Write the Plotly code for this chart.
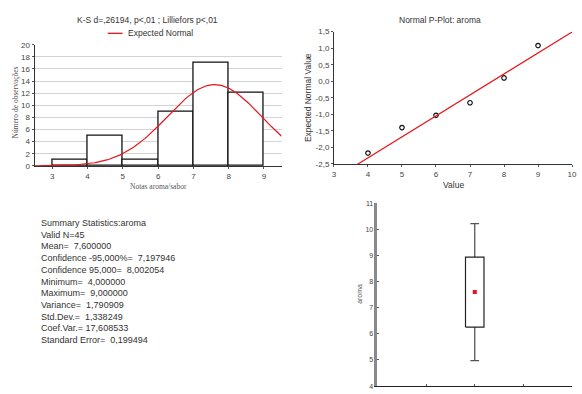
import numpy as np
import plotly.graph_objects as go

# --- data -------------------------------------------------------------
bin_lower = [3, 4, 5, 6, 7, 8]          # histogram class limits (lower)
bin_upper = [4, 5, 6, 7, 8, 9]          # histogram class limits (upper)
counts = [1, 5, 1, 9, 17, 12]           # observations per class

pp_values = [4, 5, 6, 7, 8, 9]          # normal probability plot: observed value
pp_expected = [-2.17, -1.40, -1.03, -0.65, 0.10, 1.08]  # expected normal value

stat_names = ["Valid N", "Mean", "Confidence -95,000%", "Confidence 95,000",
              "Minimum", "Maximum", "Variance", "Std.Dev.", "Coef.Var.",
              "Standard Error"]
stat_values = [45, 7.6, 7.197946, 8.002054, 4.0, 9.0, 1.790909,
               1.338249, 17.608533, 0.199494]

hist_yticks = list(range(0, 21, 2))
hist_xticks = [3, 4, 5, 6, 7, 8, 9]
pp_yticks = [-2.5, -2.0, -1.5, -1.0, -0.5, 0.0, 0.5, 1.0, 1.5]
pp_xticks = [3, 4, 5, 6, 7, 8, 9, 10]
box_yticks = [4, 5, 6, 7, 8, 9, 10, 11]

W, H = 582, 394
FONT = "Liberation Sans, Arial, sans-serif"
SERIF = "Liberation Serif, Times New Roman, serif"
TICK_COL = "#444444"


def px(x):
    return x / W


def py(y):
    return 1 - y / H


def comma(v, nd):
    return f"{v:.{nd}f}".replace(".", ",")


stats = dict(zip(stat_names, stat_values))
n = stats["Valid N"]
mean = stats["Mean"]
sd = stats["Std.Dev."]

fig = go.Figure()

# --- histogram with expected normal curve ------------------------------
mids = [(a + b) / 2 for a, b in zip(bin_lower, bin_upper)]
widths = [b - a for a, b in zip(bin_lower, bin_upper)]
fig.add_trace(go.Bar(
    x=mids, y=counts, width=widths,
    marker=dict(color="white", line=dict(color="#111111", width=1.3)),
    xaxis="x", yaxis="y", showlegend=False, hoverinfo="skip"))

xc = np.linspace(2.5, 9.5, 200)
binw = widths[0]
yc = n * binw * np.exp(-0.5 * ((xc - mean) / sd) ** 2) / (sd * np.sqrt(2 * np.pi))
fig.add_trace(go.Scatter(
    x=xc, y=yc, mode="lines", line=dict(color="#e8141b", width=1.2),
    xaxis="x", yaxis="y", showlegend=False, hoverinfo="skip"))

# --- normal probability plot -------------------------------------------
fig.add_trace(go.Scatter(
    x=pp_values, y=pp_expected, mode="markers",
    marker=dict(symbol="circle-open", size=4.5, color="#111111",
                line=dict(width=1.2, color="#111111")),
    xaxis="x2", yaxis="y2", showlegend=False, hoverinfo="skip"))

# weighted least-squares reference line
w = np.array(counts, float)
xv = np.array(pp_values, float)
yv = np.array(pp_expected, float)
xm = np.sum(w * xv) / w.sum()
ym = np.sum(w * yv) / w.sum()
slope = np.sum(w * (xv - xm) * (yv - ym)) / np.sum(w * (xv - xm) ** 2)
lx = np.array([3.0, 10.0])
ly = ym + slope * (lx - xm)
fig.add_trace(go.Scatter(
    x=lx, y=ly, mode="lines", line=dict(color="#e8141b", width=1.2),
    xaxis="x2", yaxis="y2", showlegend=False, hoverinfo="skip"))

# --- box plot: mean, mean±SD, mean±1.96*SD ------------------------------
bx = 2.0
hb, hc = 0.19, 0.09
q1, q3 = mean - sd, mean + sd
lo, hi = mean - 1.96 * sd, mean + 1.96 * sd
box_col = "#222222"
fig.add_trace(go.Scatter(
    x=[bx, bx, None, bx, bx, None, bx - hc, bx + hc, None, bx - hc, bx + hc],
    y=[q3, hi, None, q1, lo, None, hi, hi, None, lo, lo],
    mode="lines", line=dict(color="#555555", width=1.3),
    xaxis="x3", yaxis="y3", showlegend=False, hoverinfo="skip"))
fig.add_trace(go.Scatter(
    x=[bx - hb, bx + hb, bx + hb, bx - hb, bx - hb],
    y=[q1, q1, q3, q3, q1],
    mode="lines", line=dict(color=box_col, width=1.2),
    xaxis="x3", yaxis="y3", showlegend=False, hoverinfo="skip"))
fig.add_trace(go.Scatter(
    x=[bx], y=[mean], mode="markers",
    marker=dict(symbol="square", size=4, color="#e8141b"),
    xaxis="x3", yaxis="y3", showlegend=False, hoverinfo="skip"))

tickfont = dict(family=FONT, size=8, color=TICK_COL)

fig.update_layout(
    width=W, height=H, margin=dict(l=0, r=0, t=0, b=0),
    paper_bgcolor="white", plot_bgcolor="white",
    bargap=0,
    xaxis=dict(domain=[px(33), px(283)], range=[2.5, 9.5],
               tickvals=hist_xticks, ticktext=[str(t) for t in hist_xticks],
               showgrid=False, zeroline=False, showline=True,
               linecolor="#333333", linewidth=1,
               ticks="outside", ticklen=2, tickcolor="#555555",
               tickfont=tickfont, anchor="y"),
    yaxis=dict(domain=[py(165.7), py(41.7)], range=[0, 20],
               tickvals=hist_yticks, ticktext=[str(t) for t in hist_yticks],
               showgrid=True, gridcolor="#d4d4d4", gridwidth=1,
               zeroline=False, showline=True, linecolor="#333333", linewidth=1,
               ticks="outside", ticklen=2, tickcolor="#555555",
               tickfont=tickfont, anchor="x"),
    xaxis2=dict(domain=[px(336), px(577)], range=[3, 10],
                tickvals=pp_xticks, ticktext=[str(t) for t in pp_xticks],
                showgrid=False, zeroline=False, showline=True,
                linecolor="#333333", linewidth=1,
                ticks="outside", ticklen=2, tickcolor="#555555",
                tickfont=tickfont, anchor="y2"),
    yaxis2=dict(domain=[py(163.7), py(28.3)], range=[-2.5, 1.5],
                tickvals=pp_yticks,
                ticktext=[comma(t, 1) for t in pp_yticks],
                showgrid=False, zeroline=False, showline=True,
                linecolor="#333333", linewidth=1,
                ticks="outside", ticklen=2, tickcolor="#555555",
                tickfont=tickfont, anchor="x2"),
    xaxis3=dict(domain=[px(380), px(577)], range=[0, 4],
                tickvals=[1, 2, 3, 4], showticklabels=False,
                showgrid=False, zeroline=False, showline=True,
                linecolor="#222222", linewidth=1.3,
                ticks="inside", ticklen=2, tickcolor="#555555",
                anchor="y3"),
    yaxis3=dict(domain=[py(391), py(204)], range=[4, 11],
                tickvals=box_yticks, ticktext=[str(t) for t in box_yticks],
                showgrid=False, zeroline=False, showline=True,
                linecolor="#8a8a8a", linewidth=2.5,
                ticks="inside", ticklen=2, tickcolor="#555555",
                tickfont=dict(family=FONT, size=7, color=TICK_COL),
                anchor="x3"),
)

ann = []
# titles
ann.append(dict(text="K-S d=,26194, p<,01 ; Lilliefors p<,01",
                x=px(147), y=py(16), font=dict(family=FONT, size=8.5, color="#333333")))
ann.append(dict(text="Normal P-Plot: aroma",
                x=px(443), y=py(16), font=dict(family=FONT, size=8.5, color="#333333")))
# legend text
ann.append(dict(text="Expected Normal", x=px(126), y=py(30), xanchor="left",
                font=dict(family=FONT, size=8.5, color="#333333")))
# axis titles
ann.append(dict(text="Notas aroma/sabor", x=px(158), y=py(187),
                font=dict(family=SERIF, size=7.5, color="#555555")))
ann.append(dict(text="Número de observações", x=px(14), y=py(101), textangle=-90,
                font=dict(family=SERIF, size=7.5, color="#555555")))
ann.append(dict(text="Value", x=px(457), y=py(185),
                font=dict(family=FONT, size=8.5, color="#333333")))
ann.append(dict(text="Expected Normal Value", x=px(310), y=py(96), textangle=-90,
                font=dict(family=FONT, size=8.5, color="#333333")))
ann.append(dict(text="aroma", x=px(362), y=py(297), textangle=-90,
                font=dict(family=FONT, size=7, color="#555555")))

# summary statistics block (values right-aligned in a fixed-width field)
labels = {"Mean": "Mean=", "Confidence -95,000%": "Confidence -95,000%=",
          "Confidence 95,000": "Confidence 95,000=", "Minimum": "Minimum=",
          "Maximum": "Maximum=", "Variance": "Variance=",
          "Std.Dev.": "Std.Dev.=", "Coef.Var.": "Coef.Var.=",
          "Standard Error": "Standard Error="}
NBSP = "\u00a0"
lines = ["Summary Statistics:aroma", f"Valid N={int(n)}"]
for name in stat_names[1:]:
    val = comma(stats[name], 6).rjust(9).replace(" ", NBSP)
    lines.append(f"{labels[name]}{NBSP}{val}")
ann.append(dict(text="<br>".join(lines), x=px(37), y=py(217), xanchor="left",
                yanchor="top", align="left",
                font=dict(family=FONT, size=9, color="#333333")))

for a in ann:
    a.setdefault("xref", "paper")
    a.setdefault("yref", "paper")
    a.setdefault("showarrow", False)
    a.setdefault("xanchor", "center")
    a.setdefault("yanchor", "middle")
fig.update_layout(annotations=ann)

# legend sample line
fig.add_shape(type="line", xref="paper", yref="paper",
              x0=px(107), x1=px(122), y0=py(30), y1=py(30),
              line=dict(color="#e8141b", width=1.3))

fig.write_html("out.html")
